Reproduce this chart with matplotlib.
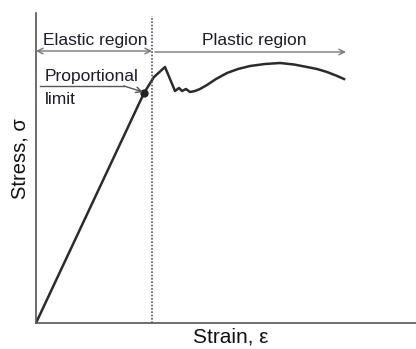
import matplotlib.pyplot as plt
import numpy as np

plt.rcParams['font.family'] = ['Liberation Sans', 'DejaVu Sans']

# stress-strain curve (arbitrary units)
strain = [0, 108, 118, 129, 139, 143, 146, 150, 154, 159, 164, 171, 180, 191, 202, 214,
          229, 244, 258, 271, 281, 291, 300, 308]
stress = [0, 230, 246, 256, 232, 235, 232, 234, 231, 232, 234, 238, 244, 250, 254, 257,
          259, 260, 258.5, 256, 254, 251, 247.5, 244]
prop_limit = (108, 230)
yield_x = 116
plastic_end = 310

fig = plt.figure(figsize=(4.16, 3.49), dpi=100)
ax = fig.add_axes([36/416, 26/349, 380/416, 310/349])
ax.set_xlim(0, 380)
ax.set_ylim(0, 310)
for s in ['top', 'right']:
    ax.spines[s].set_visible(False)
for s in ['left', 'bottom']:
    ax.spines[s].set_color('#555555')
    ax.spines[s].set_linewidth(1.2)
ax.set_xticks([])
ax.set_yticks([])

ax.plot(strain, stress, color='#2b2b2b', linewidth=1.8, solid_joinstyle='round')
ax.plot(*prop_limit, 'o', color='#222222', markersize=5)
ax.axvline(yield_x, ymax=0.99, color='#555555', linestyle=(0, (1, 1)), linewidth=1.2)

# region arrows
ax.annotate('', xy=(0, 272), xytext=(yield_x, 272),
            arrowprops=dict(arrowstyle='<->', color='#777777', lw=1, shrinkA=0, shrinkB=0))
ax.annotate('', xy=(yield_x + 3, 271), xytext=(plastic_end, 271),
            arrowprops=dict(arrowstyle='<-', color='#777777', lw=1, shrinkA=0, shrinkB=0))
# proportional limit pointer
ax.plot([4, 88], [237, 237], color='#555555', lw=1)
ax.annotate('', xy=(prop_limit[0] - 1, prop_limit[1] + 1), xytext=(88, 237),
            arrowprops=dict(arrowstyle='->', color='#555555', lw=1, shrinkA=0, shrinkB=0))

tc = '#1c1c2c'
ax.text(59, 283, 'Elastic region', ha='center', va='center', fontsize=12.5, color=tc)
ax.text(218, 282, 'Plastic region', ha='center', va='center', fontsize=12.5, color=tc)
ax.text(9, 247, 'Proportional', ha='left', va='center', fontsize=12.5, color=tc)
ax.text(9, 223, 'limit', ha='left', va='center', fontsize=12.5, color=tc)

ax.set_xlabel('Strain, ε', fontsize=15, color='#111111')
ax.set_ylabel('Stress, σ', fontsize=14.5, color='#111111')
ax.xaxis.set_label_coords(0.513, -0.045, transform=ax.transAxes)
ax.yaxis.set_label_coords(-0.042, 0.529, transform=ax.transAxes)
ax.xaxis.label.set_va('center')
ax.yaxis.label.set_va('center')

fig.savefig('out.png', dpi=100)
